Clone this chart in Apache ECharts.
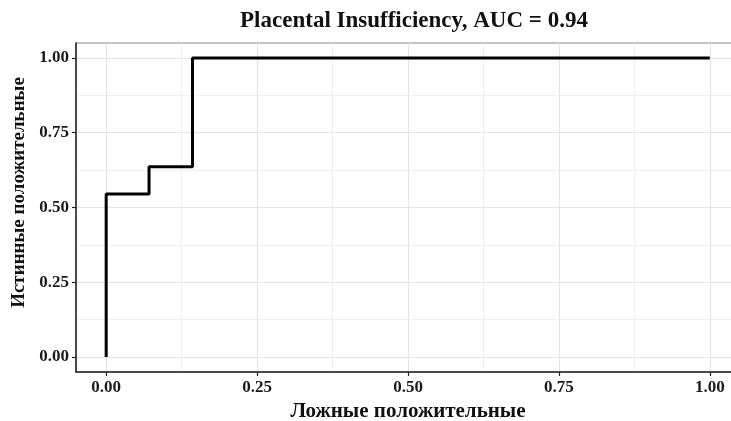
<!DOCTYPE html>
<html>
<head>
<meta charset="utf-8">
<script src="https://cdn.jsdelivr.net/npm/echarts@6/dist/echarts.min.js"></script>
<style>
  html, body { margin: 0; padding: 0; background: #fff; }
  #roc_chart { width: 731px; height: 421px; }
</style>
</head>
<body>
<div id="roc_chart"></div>
<script>
// ROC points (false positive rate, true positive rate)
const fpr = [0, 0, 0.071, 0.071, 0.143, 0.143, 1.0]
const tpr = [0, 0.545, 0.545, 0.636, 0.636, 1.0, 1.0]
const majorTicks = [0, 0.25, 0.5, 0.75, 1.0]
const minorTicks = [0.125, 0.375, 0.625, 0.875]

const font = 'Liberation Serif'
const chart = echarts.init(document.getElementById('roc_chart'))

function mainAxis (name, gap, nameSize, namePad) {
  return {
    type: 'value',
    min: -0.05,
    max: 1.05,
    name: name,
    nameLocation: 'middle',
    nameGap: gap,
    nameTextStyle: { fontFamily: font, fontWeight: 'bold', fontSize: nameSize, color: '#111', padding: namePad },
    axisLine: { show: true, onZero: false, lineStyle: { color: '#222', width: 1.5 } },
    axisTick: { show: true, length: 4, customValues: majorTicks, lineStyle: { color: '#222', width: 1.2 } },
    axisLabel: {
      customValues: majorTicks,
      fontFamily: font,
      fontWeight: 'bold',
      fontSize: 17,
      color: '#1a1a1a',
      margin: 7,
      formatter: v => v.toFixed(2)
    },
    splitLine: { show: true, lineStyle: { color: '#e3e3e3', width: 1 } }
  }
}

// second axis only used for the minor grid lines
function minorAxis () {
  return {
    type: 'value',
    min: -0.05,
    max: 1.05,
    axisLine: { show: false },
    axisTick: { show: false, customValues: minorTicks },
    axisLabel: { show: false, customValues: minorTicks },
    splitLine: { show: true, lineStyle: { color: '#f1f1f1', width: 1 } }
  }
}

chart.setOption({
  animation: false,
  title: {
    text: 'Placental Insufficiency, AUC = 0.94',
    left: 409,
    top: 5,
    textAlign: 'center',
    textStyle: { fontFamily: font, fontWeight: 'bold', fontSize: 23, color: '#111' }
  },
  grid: {
    left: 76,
    right: -9,
    top: 43,
    bottom: 49,
    outerBoundsMode: 'none',
    show: true,
    borderColor: '#888',
    borderWidth: 1
  },
  xAxis: [mainAxis('Ложные положительные', 28, 21, [0, 0, 0, 0]), Object.assign(minorAxis(), { position: 'top' })],
  yAxis: [mainAxis('Истинные положительные', 47, 19, [0, 0, 0, 30]), Object.assign(minorAxis(), { position: 'right' })],
  series: [{
    type: 'line',
    xAxisIndex: 0,
    yAxisIndex: 0,
    data: fpr.map((x, i) => [x, tpr[i]]),
    showSymbol: false,
    lineStyle: { color: '#000', width: 3 },
    z: 5
  }]
})
</script>
</body>
</html>
